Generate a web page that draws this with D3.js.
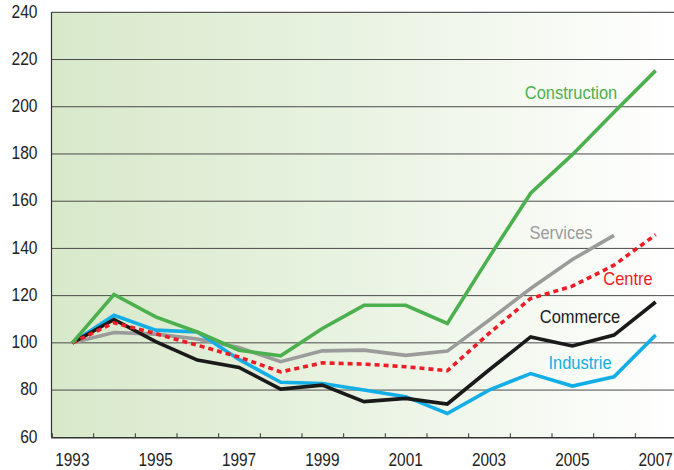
<!DOCTYPE html>
<html>
<head>
<meta charset="utf-8">
<script src="https://cdn.jsdelivr.net/npm/d3@7"></script>
<style>
  body { margin: 0; background: #fff; }
  svg text { font-family: "Liberation Sans", Arial, sans-serif; }
</style>
</head>
<body>
<svg id="chart"></svg>
<script>
// years and index values (base 100 in 1993)
const years = d3.range(1993, 2008);
const construction = [100, 120.5, 111, 104.6, 96.9, 94.5, 106.1, 115.9, 115.9, 108.2, 136.2, 163.4, 179.7, 197.7, 215.3];
const services     = [100, 104.4, 103.7, 101.6, 98, 92, 96.6, 96.9, 94.7, 96.5, 109.6, 123, 135.3, 145.5, null];
const centre       = [100, 108.5, 103.9, 99, 94, 87.7, 91.5, 91, 89.9, 88.2, 104, 118.8, 124, 132.9, 145.8];
const commerce     = [100, 109.9, 100.5, 92.7, 89.6, 80.4, 82.1, 75.1, 76.5, 74.1, 88.5, 102.5, 98.7, 103.3, 117.3];
const industrie    = [100, 111.7, 105.4, 104.6, 93, 83.3, 82.8, 80, 77.2, 70.1, 80, 87, 81.7, 85.6, 103.3];
const yTicks = d3.range(60, 241, 20);
const xLabels = [1993, 1995, 1997, 1999, 2001, 2003, 2005, 2007];

const W = 674, H = 470;
const margin = { top: 12.3, left: 51.5, bottom: 32.7 };
const plotRight = 676.5;
const narrow = 0.88; // squeeze glyphs, the original uses a condensed face

const svg = d3.select("#chart").attr("width", W).attr("height", H);

const x = d3.scaleLinear().domain([1992.5, 2007.5]).range([margin.left, plotRight]);
const y = d3.scaleLinear().domain([60, 240]).range([H - margin.bottom, margin.top]);

// background gradient
const grad = svg.append("defs").append("linearGradient").attr("id", "bg")
    .attr("x1", "0%").attr("x2", "100%").attr("y1", "0%").attr("y2", "0%");
grad.append("stop").attr("offset", "0%").attr("stop-color", "#d8e9ca");
grad.append("stop").attr("offset", "45%").attr("stop-color", "#e8f2e0");
grad.append("stop").attr("offset", "100%").attr("stop-color", "#ffffff");

svg.append("rect")
    .attr("x", margin.left).attr("y", y(240))
    .attr("width", plotRight - margin.left).attr("height", y(60) - y(240))
    .attr("fill", "url(#bg)");

// horizontal grid
svg.append("g").selectAll("line")
    .data(yTicks.filter(d => d > 60))
    .join("line")
    .attr("x1", margin.left).attr("x2", plotRight)
    .attr("y1", d => y(d)).attr("y2", d => y(d))
    .attr("stroke", d => d == 240 ? "#333" : "#4a4a4a")
    .attr("stroke-width", 1);

// y labels
svg.append("g").selectAll("text")
    .data(yTicks)
    .join("text")
    .attr("transform", d => `translate(37.5,${y(d) - 1}) scale(${narrow},1)`)
    .attr("dy", "0.35em")
    .attr("text-anchor", "end")
    .attr("font-size", 17.7)
    .attr("fill", "#222")
    .text(d => d);

// left axis line
svg.append("line")
    .attr("x1", margin.left).attr("x2", margin.left)
    .attr("y1", y(240)).attr("y2", y(60))
    .attr("stroke", "#333").attr("stroke-width", 1.2);

// bottom axis with ticks between years
const xAxis = d3.axisBottom(x)
    .tickValues(d3.range(1993.5, 2007.5, 1))
    .tickSize(-4)
    .tickFormat("");
const gx = svg.append("g")
    .attr("transform", `translate(0,${y(60)})`)
    .call(xAxis);
gx.select(".domain").attr("stroke", "#333").attr("stroke-width", 1.6);
gx.selectAll(".tick line").attr("stroke", "#333");

svg.append("g").selectAll("text")
    .data(xLabels)
    .join("text")
    .attr("transform", d => `translate(${x(d)},466) scale(${narrow},1)`)
    .attr("text-anchor", "middle")
    .attr("font-size", 17.5)
    .attr("fill", "#222")
    .text(d => d);

// series
const series = [
  { name: "Services", values: services, color: "#9b9b9b", dash: null, lx: 561, ly: 233 },
  { name: "Industrie", values: industrie, color: "#14aee6", dash: null, lx: 580, ly: 363 },
  { name: "Commerce", values: commerce, color: "#1a1a1a", dash: null, lx: 580, ly: 317 },
  { name: "Centre", values: centre, color: "#ee1c25", dash: "5,4", lx: 628, ly: 279 },
  { name: "Construction", values: construction, color: "#4cb04f", dash: null, lx: 571, ly: 93 }
];

const line = d3.line()
    .defined(d => d != null)
    .x((d, i) => x(years[i]))
    .y(d => y(d));

svg.append("g").selectAll("path")
    .data(series)
    .join("path")
    .attr("d", s => line(s.values))
    .attr("fill", "none")
    .attr("stroke", s => s.color)
    .attr("stroke-width", 3.6)
    .attr("stroke-dasharray", s => s.dash)
    .attr("stroke-linejoin", "miter");

svg.append("g").selectAll("text")
    .data(series)
    .join("text")
    .attr("transform", s => `translate(${s.lx},${s.ly}) scale(0.89,1)`)
    .attr("dy", "0.35em")
    .attr("text-anchor", "middle")
    .attr("font-size", 18.5)
    .attr("fill", s => s.color)
    .text(s => s.name);
</script>
</body>
</html>
